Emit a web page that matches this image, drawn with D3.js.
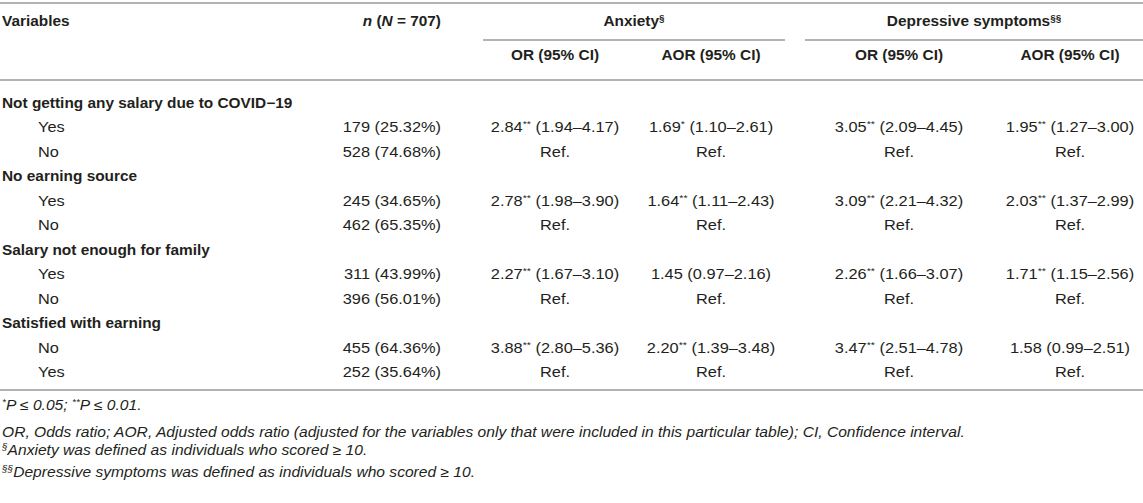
<!DOCTYPE html>
<html><head><meta charset="utf-8">
<script src="https://cdn.jsdelivr.net/npm/d3@7"></script>
<style>
body{margin:0;background:#fff}
svg{display:block}
text{font-family:"Liberation Sans",Arial,Helvetica,sans-serif;fill:#231f20;font-size:14px}
</style>
</head><body>
<svg id="c" width="1143" height="503"></svg>
<script>
// ---- data ----
const variables = ["Not getting any salary due to COVID\u221219", "No earning source", "Salary not enough for family", "Satisfied with earning"];
const levels = [["Yes","No"],["Yes","No"],["Yes","No"],["No","Yes"]];
const nCounts = [[179,528],[245,462],[311,396],[455,252]];
const nPercents = [["25.32","74.68"],["34.65","65.35"],["43.99","56.01"],["64.36","35.64"]];
// [estimate, lower, upper, stars] for the first level; second level is the reference
const anxietyOR  = [["2.84","1.94","4.17","**"],["2.78","1.98","3.90","**"],["2.27","1.67","3.10","**"],["3.88","2.80","5.36","**"]];
const anxietyAOR = [["1.69","1.10","2.61","*"],["1.64","1.11","2.43","**"],["1.45","0.97","2.16",""],["2.20","1.39","3.48","**"]];
const depressOR  = [["3.05","2.09","4.45","**"],["3.09","2.21","4.32","**"],["2.26","1.66","3.07","**"],["3.47","2.51","4.78","**"]];
const depressAOR = [["1.95","1.27","3.00","**"],["2.03","1.37","2.99","**"],["1.71","1.15","2.56","**"],["1.58","0.99","2.51",""]];
const groupHeaders = [["Anxiety","\u00a7"],["Depressive symptoms","\u00a7\u00a7"]];
const subHeaders = ["OR (95% CI)","AOR (95% CI)","OR (95% CI)","AOR (95% CI)"];
const footnotes = [
  [["*",true],["P \u2264 0.05; ",false],["**",true],["P \u2264 0.01.",false]],
  [["OR, Odds ratio; AOR, Adjusted odds ratio (adjusted for the variables only that were included in this particular table); CI, Confidence interval.",false]],
  [["\u00a7",true],["Anxiety was defined as individuals who scored \u2265 10.",false]],
  [["\u00a7\u00a7",true],["Depressive symptoms was defined as individuals who scored \u2265 10.",false]]
];

// ---- layout ----
const W = 1143, SXB = 1.1, SXR = 1.17, SXF = 1.115;
const svg = d3.select("#c");
const rowCount = variables.length * 3;
const yRow = d3.scalePoint().domain(d3.range(rowCount)).range([103, 372.5]);
const colKeys = ["aOR","aAOR","dOR","dAOR"];
const xCol = d3.scaleOrdinal().domain(colKeys).range([555, 711, 899, 1070]);
const nRight = 441;
const groupSpans = [[483, 785],[805, W]];
const rule = "#b3b3b3";

function txt(x, y, anchor, parts, opts = {}) {
  const sx = opts.bold ? SXB : (opts.italic ? SXF : SXR);
  const t = svg.append("text")
    .attr("transform", `translate(${x},${y}) scale(${sx},1)`)
    .attr("text-anchor", anchor)
    .attr("dy", "0.35em")
    .style("font-weight", opts.bold ? "bold" : null)
    .style("font-style", opts.italic ? "italic" : null)
    .style("font-size", opts.size ? opts.size + "px" : null);
  let shifted = false;
  parts.forEach(([s, sup]) => {
    const ts = t.append("tspan").text(s);
    if (sup && !shifted) { ts.attr("dy", -5).style("font-size", "9px"); shifted = true; }
    else if (!sup && shifted) { ts.attr("dy", 5); shifted = false; }
    else if (sup) ts.style("font-size", "9px");
  });
  return t;
}
function line(x1, x2, y, w = 2) {
  svg.append("line").attr("x1", x1).attr("x2", x2).attr("y1", y).attr("y2", y)
    .attr("stroke", rule).attr("stroke-width", w);
}

// rules
line(0, W, 3);
groupSpans.forEach(([a, b]) => line(a, b, 40));
line(0, W, 80);
line(0, W, 390);

// header
const yH1 = 21, yH2 = 55;
txt(2, yH1, "start", [["Variables", false]], {bold: true});
const nh = txt(nRight, yH1, "end", [], {bold: true});
nh.append("tspan").style("font-style","italic").text("n");
nh.append("tspan").text(" (");
nh.append("tspan").style("font-style","italic").text("N");
nh.append("tspan").text(" = 707)");
groupHeaders.forEach(([label, mark], i) => {
  const [a, b] = groupSpans[i];
  txt((a + b) / 2, yH1, "middle", [[label, false],[mark, true]], {bold: true});
});
subHeaders.forEach((s, i) => txt(xCol(colKeys[i]), yH2, "middle", [[s, false]], {bold: true}));

// body
const cols = [anxietyOR, anxietyAOR, depressOR, depressAOR];
variables.forEach((v, gi) => {
  const base = gi * 3;
  txt(2, yRow(base), "start", [[v, false]], {bold: true});
  levels[gi].forEach((lv, li) => {
    const y = yRow(base + 1 + li);
    txt(38, y, "start", [[lv, false]]);
    txt(nRight, y, "end", [[`${nCounts[gi][li]} (${nPercents[gi][li]}%)`, false]]);
    cols.forEach((col, ci) => {
      const x = xCol(colKeys[ci]);
      if (li === 0) {
        const [e, lo, hi, st] = col[gi];
        const parts = [[e, false]];
        if (st) parts.push([st, true]);
        parts.push([` (${lo}\u2013${hi})`, false]);
        txt(x, y, "middle", parts);
      } else {
        txt(x, y, "middle", [["Ref.", false]]);
      }
    });
  });
});

// footnotes
const yFoot = d3.scalePoint().domain(d3.range(footnotes.length)).range([410, 477]);
footnotes.forEach((parts, i) => txt(2, yFoot(i), "start", parts, {italic: true, size: 14}));
</script>
</body></html>
